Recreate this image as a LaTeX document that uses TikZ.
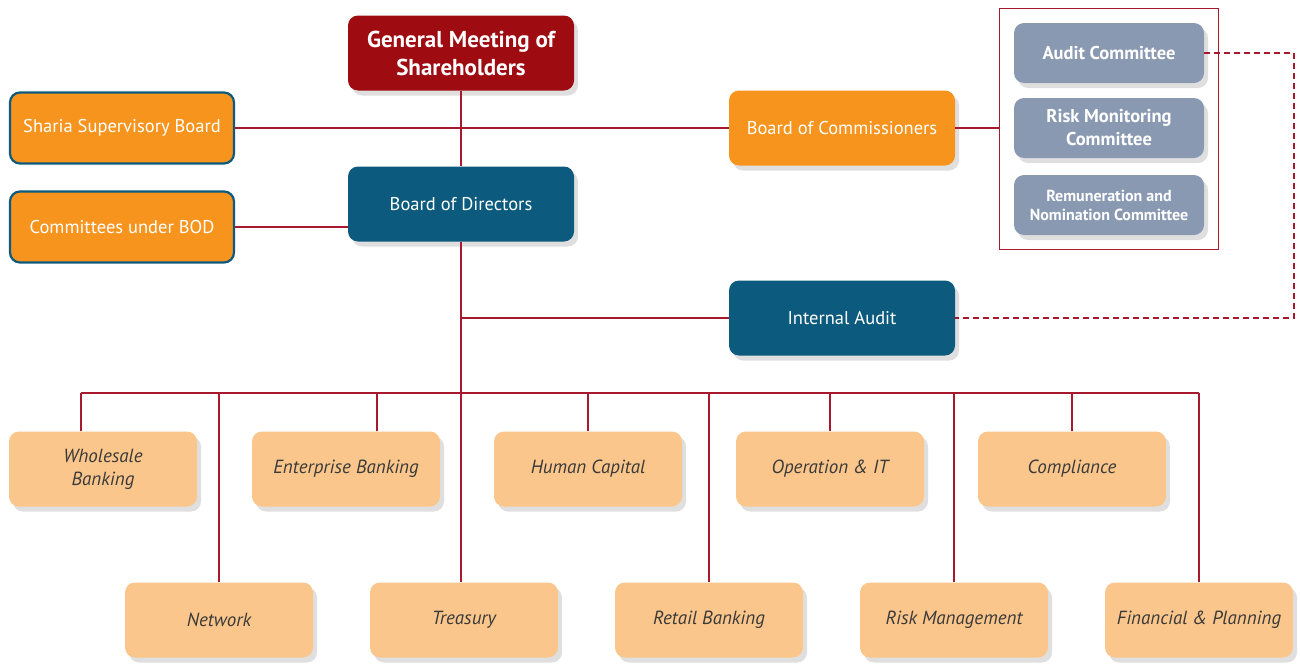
\documentclass[tikz,border=0pt]{standalone}
\usepackage{fontspec}
\setmainfont{PT Sans}
\usetikzlibrary{positioning,shadows,fit}
\definecolor{rojo}{RGB}{158,11,16}
\definecolor{azul}{RGB}{12,90,125}
\definecolor{naranja}{RGB}{247,148,30}
\definecolor{gris}{RGB}{138,153,178}
\definecolor{crema}{RGB}{251,198,139}
\definecolor{linea}{RGB}{168,25,45}
\definecolor{texto}{RGB}{58,58,58}

\begin{document}
\begin{tikzpicture}[x=1pt,y=-1pt,
  base/.style={rounded corners=10pt, minimum width=226pt, minimum height=75pt,
    align=center, text=white, inner sep=2pt, font=\fontsize{18.5}{23}\selectfont},
  caja/.style={base, drop shadow={opacity=0.25, shadow xshift=4pt, shadow yshift=-5pt}},
  comite/.style={caja, fill=gris, minimum width=190pt, minimum height=60pt,
    font=\bfseries\fontsize{18.5}{23}\selectfont},
  area/.style={caja, fill=crema, text=texto, minimum width=188pt,
    font=\itshape\fontsize{19}{23}\selectfont},
  link/.style={draw=linea, line width=1.2pt}]
  \useasboundingbox (0,0) rectangle (1300,664);

  % Organos principales
  \node[caja, fill=rojo, font=\bfseries\fontsize{23}{28}\selectfont] (gm) at (461,53)
    {General Meeting of\\Shareholders};
  \node[caja, fill=azul] (bod) at (461,204) {Board of Directors};
  \node[base, fill=naranja, draw=azul, line width=2.2pt, minimum width=224pt,
    minimum height=71pt] (ssb) at (122,128) {Sharia Supervisory Board};
  \node[base, fill=naranja, draw=azul, line width=2.2pt, minimum width=224pt,
    minimum height=71pt] (cub) at (122,227) {Committees under BOD};
  \node[caja, fill=naranja] (boc) at (842,128) {Board of Commissioners};
  \node[caja, fill=azul] (ia) at (842,318) {Internal Audit};

  % Comites del consejo
  \node[comite] (ac) at (1109,53) {Audit Committee};
  \node[comite] (rmc) at (1109,128) {Risk Monitoring\\Committee};
  \node[comite, font=\bfseries\fontsize{16}{19}\selectfont] (rnc) at (1109,205)
    {Remuneration and\\Nomination Committee};
  \node[draw=linea, line width=1pt, fit=(ac)(rnc), inner xsep=14pt, inner ysep=14.5pt] (marco) {};

  % Direcciones
  \node[area] (ws) at (103,469) {Wholesale\\Banking};
  \node[area] (eb) at (346,469) {Enterprise Banking};
  \node[area] (hc) at (588,469) {Human Capital};
  \node[area] (op) at (830,469) {Operation \& IT};
  \node[area] (co) at (1072,469) {Compliance};
  \node[area] (nw) at (219,620) {Network};
  \node[area] (tr) at (464,620) {Treasury};
  \node[area] (rb) at (709,620) {Retail Banking};
  \node[area] (rm) at (954,620) {Risk Management};
  \node[area] (fp) at (1199,620) {Financial \& Planning};

  % Lineas
  \draw[link] (gm.south) -- (bod.north);
  \draw[link] (ssb.east) -- (boc.west);
  \draw[link] (boc.east) -- (boc.east -| marco.west);
  \draw[link] (cub.east) -- (cub.east -| bod.west);
  \draw[link] (bod.south) -- (bod.south |- tr.north);
  \draw[link] (bod.south |- ia.west) -- (ia.west);
  \coordinate (esq) at (1294,0);
  \draw[link, dash pattern=on 6pt off 4pt] (ac.east) -- (ac.east -| esq)
    -- (esq |- ia.east) -- (ia.east);

  % Barra y ramas
  \coordinate (bus) at (81,393);
  \draw[link] (bus) -- (bus -| fp.north);
  \foreach \n/\dx in {ws/-22, eb/31, hc/0, op/0, co/0}
    \draw[link] ([xshift=\dx pt]\n.north) -- ([xshift=\dx pt]\n.north |- bus);
  \foreach \n in {nw, rb, rm, fp}
    \draw[link] (\n.north) -- (\n.north |- bus);
\end{tikzpicture}
\end{document}
